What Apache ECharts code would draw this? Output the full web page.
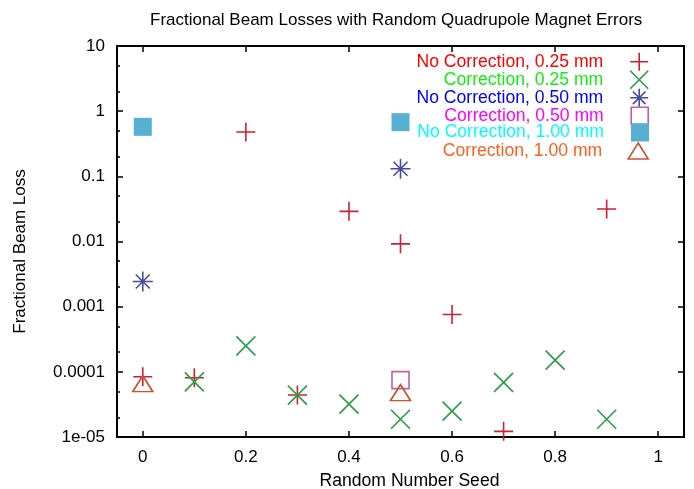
<!DOCTYPE html>
<html>
<head>
<meta charset="utf-8">
<script src="https://cdn.jsdelivr.net/npm/echarts@6/dist/echarts.min.js"></script>
<style>
  html, body { margin: 0; padding: 0; background: #fff; }
  #chart { width: 694px; height: 489px; }
</style>
</head>
<body>
<div id="chart"></div>
<script>
// ---- data ----
const seeds = [0, 0.1, 0.2, 0.3, 0.4, 0.5, 0.6, 0.7, 0.8, 0.9];
const noCorr025 = [8.4e-5, 8.1e-5, 0.48, 4.4e-5, 0.029, 0.0092, 7.6e-4, 1.22e-5, null, 0.0315];
const corr025   = [null, 7.0e-5, 2.5e-4, 4.4e-5, 3.2e-5, 1.87e-5, 2.5e-5, 6.9e-5, 1.51e-4, 1.87e-5];
const noCorr050 = [2.43e-3, null, null, null, null, 0.131, null, null, null, null];
const corr050   = [null, null, null, null, null, 7.45e-5, null, null, null, null];
const noCorr100 = [0.575, null, null, null, null, 0.678, null, null, null, null];
const corr100   = [6.6e-5, null, null, null, null, 4.8e-5, null, null, null, null];

const seriesNames = [
  'No Correction, 0.25 mm',
  'Correction, 0.25 mm',
  'No Correction, 0.50 mm',
  'Correction, 0.50 mm',
  'No Correction, 1.00 mm',
  'Correction, 1.00 mm'
];
const xTickValues = [0, 0.2, 0.4, 0.6, 0.8, 1];
const xTickLabels = ['0', '0.2', '0.4', '0.6', '0.8', '1'];
const yTickLabels = { '-5': '1e-05', '-4': '0.0001', '-3': '0.001', '-2': '0.01', '-1': '0.1', '0': '1', '1': '10' };
const titleText = 'Fractional Beam Losses with Random Quadrupole Magnet Errors';
const xName = 'Random Number Seed';
const yName = 'Fractional Beam Loss';

// ---- styling ----
const FONT = 'Liberation Sans, Arial, Helvetica, sans-serif';
const markerColors = ['#cc2035', '#2a9d47', '#4a4a9e', '#c0609e', '#57afd1', '#cf5030'];
const textColors = ['#ff0000', '#11ee11', '#0000ff', '#ff00ff', '#00ffff', '#ff6020'];
const PLUS = 'path://M0,5L10,5M5,0L5,10';
const CROSS = 'path://M0,0L10,10M10,0L0,10';
const STAR = 'path://M0,5L10,5M5,0L5,10M1.5,1.5L8.5,8.5M8.5,1.5L1.5,8.5';
const SQUARE = 'path://M0,0L10,0L10,10L0,10Z';
const TRI = 'path://M5,0L10,8L0,8Z';

const allValues = [noCorr025, corr025, noCorr050, corr050, noCorr100, corr100];
function pairs(vals) {
  return seeds.map((x, i) => (vals[i] == null ? null : [x, vals[i]])).filter(Boolean);
}

const symbolDefs = [
  { symbol: PLUS, size: 19, fill: 'transparent', icon: PLUS, ih: 18 },
  { symbol: CROSS, size: 19, fill: 'transparent', icon: CROSS, ih: 18 },
  { symbol: STAR, size: 20, fill: 'transparent', icon: STAR, ih: 18 },
  { symbol: 'rect', size: 17, fill: 'transparent', icon: SQUARE, ih: 17 },
  { symbol: 'rect', size: 18, fill: markerColors[4], icon: SQUARE, ih: 18 },
  { symbol: 'triangle', size: [20, 16], fill: 'transparent', icon: TRI, ih: 16 }
];

const series = allValues.map((vals, k) => ({
  type: 'scatter',
  name: seriesNames[k],
  xAxisIndex: 0,
  yAxisIndex: 0,
  symbol: symbolDefs[k].symbol,
  symbolSize: symbolDefs[k].size,
  itemStyle: {
    color: symbolDefs[k].fill,
    borderColor: markerColors[k],
    borderWidth: k === 4 ? 0 : 1.6,
    opacity: 1
  },
  emphasis: { disabled: true },
  data: pairs(vals)
}));

const rowCenters = [61, 79, 97, 115, 132.5, 150];
const legends = seriesNames.map((name, k) => ({
  show: true,
  right: 45,
  top: rowCenters[k] - symbolDefs[k].ih / 2,
  orient: 'vertical',
  align: 'right',
  itemWidth: 62,
  itemHeight: symbolDefs[k].ih,
  icon: symbolDefs[k].icon,
  selectedMode: false,
  padding: 0,
  itemStyle: { borderWidth: k === 4 ? 0 : 1.6 },
  textStyle: { fontSize: 17.6, fontFamily: FONT, color: textColors[k] },
  data: [{ name: name, textStyle: { color: textColors[k] } }]
}));

const minorTicks = [];
for (let d = -5; d < 1; d++) {
  minorTicks.push(d + Math.log10(2), d + Math.log10(5));
}

const axisLineStyle = { color: '#000', width: 2 };
const tickLineStyle = { color: '#000', width: 1.5 };

const option = {
  animation: false,
  backgroundColor: '#fff',
  title: {
    text: titleText,
    left: 145,
    top: 7,
    textStyle: { fontSize: 17, fontWeight: 'normal', color: '#000', fontFamily: FONT }
  },
  legend: legends,
  grid: { left: 117, right: 10, top: 46, bottom: 52, containLabel: false, outerBoundsMode: 'none' },
  xAxis: [
    {
      type: 'value', position: 'bottom', min: -0.05, max: 1.05,
      axisLine: { show: true, onZero: false, lineStyle: axisLineStyle },
      axisTick: { show: true, inside: true, length: 6, customValues: xTickValues, lineStyle: tickLineStyle },
      axisLabel: {
        show: true, customValues: xTickValues, margin: 12,
        fontSize: 17, color: '#000', fontFamily: FONT,
        formatter: (v) => xTickLabels[xTickValues.findIndex(t => Math.abs(t - v) < 1e-9)] || ''
      },
      splitLine: { show: false },
      name: xName, nameLocation: 'middle', nameGap: 35,
      nameTextStyle: { fontSize: 17.6, color: '#000', fontFamily: FONT, padding: [0, 0, 0, 18] }
    },
    {
      type: 'value', position: 'top', min: -0.05, max: 1.05,
      axisLine: { show: true, onZero: false, lineStyle: axisLineStyle },
      axisTick: { show: true, inside: true, length: 6, customValues: xTickValues, lineStyle: tickLineStyle },
      axisLabel: { show: false },
      splitLine: { show: false }
    }
  ],
  yAxis: [
    {
      type: 'log', logBase: 10, position: 'left', min: 1e-5, max: 10,
      axisLine: { show: true, onZero: false, lineStyle: axisLineStyle },
      axisTick: { show: true, inside: true, length: 6, lineStyle: tickLineStyle },
      axisLabel: {
        show: true, margin: 12, fontSize: 17, color: '#000', fontFamily: FONT,
        formatter: (v) => yTickLabels[String(Math.round(Math.log10(v)))] || ''
      },
      splitLine: { show: false },
      minorTick: { show: false },
      name: yName, nameLocation: 'middle', nameGap: 88, nameRotate: 90,
      nameTextStyle: { fontSize: 17, color: '#000', fontFamily: FONT, padding: [0, 20, 0, 0] }
    },
    {
      type: 'log', logBase: 10, position: 'right', min: 1e-5, max: 10,
      axisLine: { show: true, onZero: false, lineStyle: axisLineStyle },
      axisTick: { show: true, inside: true, length: 6, lineStyle: tickLineStyle },
      axisLabel: { show: false },
      splitLine: { show: false }
    },
    {
      type: 'value', position: 'left', min: -5, max: 1,
      axisLine: { show: false, onZero: false },
      axisTick: { show: true, inside: true, length: 3, customValues: minorTicks, lineStyle: tickLineStyle },
      axisLabel: { show: false },
      splitLine: { show: false }
    }
  ],
  series: series
};

const chart = echarts.init(document.getElementById('chart'), null, { renderer: 'canvas' });
chart.setOption(option);
</script>
</body>
</html>
